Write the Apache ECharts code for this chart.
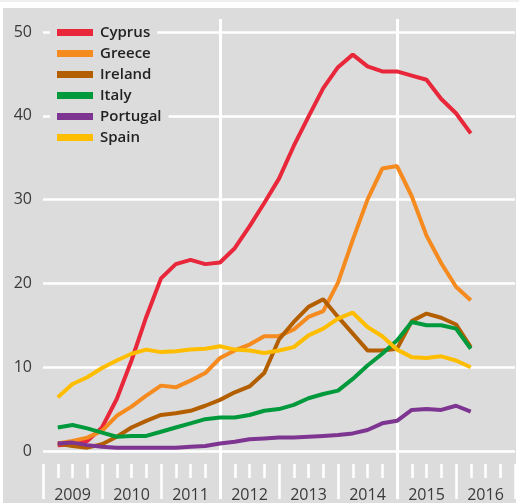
<!DOCTYPE html>
<html>
<head>
<meta charset="utf-8">
<script src="https://cdn.jsdelivr.net/npm/echarts@6/dist/echarts.min.js"></script>
<style>
  html, body { margin: 0; padding: 0; background: #fff; }
  #chart { width: 519px; height: 503px; }
</style>
</head>
<body>
<div id="chart"></div>
<script>
// quarterly observations, 2009 Q1 .. 2016 Q1
var quarters = [];
for (let y = 2009; y <= 2016; y++) {
    for (let q = 1; q <= 4; q++) {
        if (y === 2016 && q > 1) break;
        quarters.push(y + ' Q' + q);
    }
}
var years = ['2009', '2010', '2011', '2012', '2013', '2014', '2015', '2016'];
var yTicks = [0, 10, 20, 30, 40, 50];

var cyprus   = [0.7, 0.8, 1.2, 2.8, 6.2, 10.8, 16.0, 20.6, 22.3, 22.8, 22.3, 22.5, 24.2, 26.8, 29.6, 32.5, 36.4, 39.9, 43.3, 45.8, 47.3, 45.9, 45.3, 45.3, 44.8, 44.3, 42.0, 40.3, 37.9];
var greece   = [0.9, 1.2, 1.6, 2.4, 4.2, 5.3, 6.6, 7.8, 7.6, 8.4, 9.3, 11.1, 12.0, 12.7, 13.7, 13.7, 14.5, 16.0, 16.7, 20.1, 25.2, 30.0, 33.7, 34.0, 30.4, 25.7, 22.4, 19.6, 18.0];
var ireland  = [0.9, 0.6, 0.4, 0.8, 1.7, 2.8, 3.6, 4.3, 4.5, 4.8, 5.4, 6.1, 7.0, 7.7, 9.3, 13.3, 15.4, 17.2, 18.1, 16.0, 14.0, 12.0, 12.0, 12.2, 15.5, 16.4, 15.9, 15.1, 12.4];
var italy    = [2.8, 3.1, 2.7, 2.2, 1.7, 1.8, 1.8, 2.3, 2.8, 3.3, 3.8, 4.0, 4.0, 4.3, 4.8, 5.0, 5.5, 6.3, 6.8, 7.2, 8.6, 10.2, 11.6, 13.2, 15.4, 15.0, 15.0, 14.6, 12.2];
var portugal = [0.9, 1.0, 0.7, 0.5, 0.4, 0.4, 0.4, 0.4, 0.4, 0.5, 0.6, 0.9, 1.1, 1.4, 1.5, 1.6, 1.6, 1.7, 1.8, 1.9, 2.1, 2.5, 3.3, 3.6, 4.9, 5.0, 4.9, 5.4, 4.7];
var spain    = [6.4, 8.0, 8.8, 9.9, 10.8, 11.6, 12.1, 11.8, 11.9, 12.1, 12.2, 12.5, 12.1, 12.0, 11.7, 12.0, 12.4, 13.8, 14.6, 15.8, 16.5, 14.8, 13.7, 12.1, 11.2, 11.1, 11.3, 10.8, 10.0];

var seriesInfo = [
    { name: 'Cyprus',   data: cyprus,   color: '#e8273a' },
    { name: 'Greece',   data: greece,   color: '#f58a1f' },
    { name: 'Ireland',  data: ireland,  color: '#b35f00' },
    { name: 'Italy',    data: italy,    color: '#009a3d' },
    { name: 'Portugal', data: portugal, color: '#7d3591' },
    { name: 'Spain',    data: spain,    color: '#ffbd00' }
];

// quarter boundaries from start of 2009 to end of 2016
var boundaries = [];
for (let i = 0; i <= years.length * 4; i++) boundaries.push(i);

var bg = '#dcdcdc';
var font = 'Open Sans';

var chart = echarts.init(document.getElementById('chart'));

var legendBase = {
    orient: 'vertical',
    left: 50,
    padding: [0, 7, 0, 7],
    itemWidth: 36,
    itemHeight: 7,
    itemGap: 0,
    icon: 'rect',
    backgroundColor: bg,
    selectedMode: false,
    textStyle: { fontFamily: font, fontSize: 15, fontWeight: 600, color: '#222', lineHeight: 21, padding: [0, 0, 0, 2] }
};

var option = {
    animation: false,
    backgroundColor: '#fff',
    graphic: [
        { type: 'rect', z: -10, shape: { x: 0, y: 0, width: 519, height: 2 }, style: { fill: '#efefef' } },
        { type: 'rect', z: -10, shape: { x: 3, y: 8, width: 513, height: 495 }, style: { fill: bg } }
    ],
    legend: [
        Object.assign({}, legendBase, { top: 22, data: ['Cyprus'] }),
        Object.assign({}, legendBase, { top: 43, data: ['Greece', 'Ireland', 'Italy', 'Portugal', 'Spain'] })
    ],
    grid: [
        { left: 43, right: 4, top: 32, bottom: 52 },
        { left: 43, right: 4, top: 19, bottom: 4 }
    ],
    yAxis: [
        {
            gridIndex: 0, type: 'value', min: yTicks[0], max: yTicks[yTicks.length - 1], interval: 10,
            axisLine: { show: false }, axisTick: { show: false },
            axisLabel: { margin: 11, fontFamily: font, fontSize: 16, color: '#3a3a3a' },
            splitLine: { lineStyle: { color: '#fff', width: 2.5 } }
        },
        { gridIndex: 1, type: 'value', show: false, min: 0, max: 1 }
    ],
    xAxis: [
        // series axis: quarters since start of 2009
        { gridIndex: 0, type: 'value', min: 0, max: boundaries.length - 1, show: false },
        // tall vertical lines at start of 2012 and 2015
        {
            gridIndex: 1, type: 'category', data: boundaries, boundaryGap: false, position: 'bottom',
            axisLine: { show: false }, axisTick: { show: false }, axisLabel: { show: false },
            splitLine: { show: true, interval: function (i) { return i === 12 || i === 24; }, lineStyle: { color: '#fff', width: 3 } }
        },
        // quarter ticks
        {
            gridIndex: 0, type: 'category', data: boundaries, boundaryGap: false, position: 'bottom', offset: 13,
            axisLine: { show: false, onZero: false }, axisLabel: { show: false },
            axisTick: { show: true, interval: 0, length: 14, lineStyle: { color: '#fff', width: 2.5 } }
        },
        // year ticks
        {
            gridIndex: 0, type: 'category', data: boundaries, boundaryGap: false, position: 'bottom', offset: 13,
            axisLine: { show: false, onZero: false }, axisLabel: { show: false },
            axisTick: { show: true, interval: function (i) { return i % 4 === 0; }, length: 35, lineStyle: { color: '#fff', width: 2.5 } }
        },
        // year labels
        {
            gridIndex: 0, type: 'category', data: years, boundaryGap: true, position: 'bottom',
            axisLine: { show: false, onZero: false }, axisTick: { show: false },
            axisLabel: { margin: 36, fontFamily: font, fontSize: 16, color: '#3a3a3a' }
        }
    ],
    series: seriesInfo.map(function (s) {
        return {
            name: s.name,
            type: 'line',
            xAxisIndex: 0,
            yAxisIndex: 0,
            showSymbol: false,
            symbol: 'none',
            color: s.color,
            lineStyle: { width: 4, color: s.color },
            emphasis: { disabled: true },
            data: s.data.map(function (v, i) { return [i + 1, v]; })
        };
    })
};

chart.setOption(option);
</script>
</body>
</html>
